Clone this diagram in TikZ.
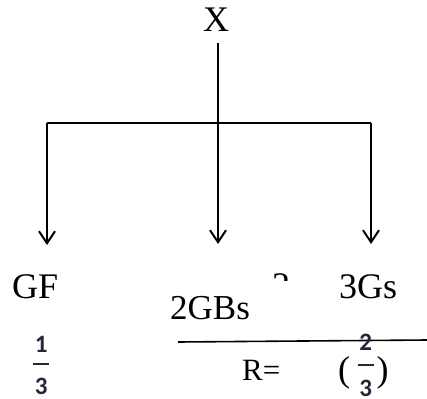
\documentclass[tikz,border=0pt]{standalone}
\usepackage{fontspec}
\setmainfont{Liberation Serif}
\newfontfamily\fracfont{Carlito}
\definecolor{fracink}{RGB}{34, 40, 56}
\usetikzlibrary{arrows.meta, positioning, calc}
\newcommand{\stackfrac}[4]{\vbox{\hbox to 16pt{\hss#1\hss}\kern#3\hrule height 1.8pt\kern#4\hbox to 16pt{\hss#2\hss}}}

\begin{document}
\begin{tikzpicture}[x=1pt, y=-1pt,
    bigtext/.style={anchor=base west, inner sep=0pt, font=\fontsize{36}{40}\selectfont},
    fractext/.style={anchor=base west, inner sep=0pt, text=fracink, font=\fracfont\bfseries\fontsize{25}{28}\selectfont},
    branch/.style={line width=2pt, -{Straight Barb[length=12pt, width=16pt, line width=2pt]}}]
  \useasboundingbox (0,0) rectangle (427,398);

  % parent and the bar it hangs from
  \node[bigtext] (X) at (203,32) {X};
  \coordinate (jl) at (47,123);
  \coordinate (jm) at (218,123);
  \coordinate (jr) at (371,123);
  \draw[line width=1.3pt] (X.south -| jm) ++(0,11) -- (jm);
  \draw[line width=1.7pt] (jl) -- (jr);

  % three branches
  \coordinate (el) at (47,245);
  \coordinate (em) at (218,244);
  \coordinate (er) at (371,244);
  \draw[branch] (jl) -- (el);
  \draw[branch] (jm) -- (em);
  \draw[branch] (jr) -- (er);

  % offspring
  \node[bigtext] (GF) at (12,298) {GF};
  \node[bigtext] (Gs) at (339,298) {3Gs};
  \node[bigtext, font=\fontsize{35}{40}\selectfont] (GBs) at (170,319) {2GBs};
  \begin{scope}
    \clip (265,266) rectangle (295,280);
    \node[bigtext] (hidden) at (272,297) {2};
  \end{scope}

  % ratio
  \draw[line width=1.6pt] (178,342) -- (427,340);
  \node[fractext] (oneThird) at (33,394) {\stackfrac{1}{3}{10pt}{13pt}};
  \node[bigtext, font=\fontsize{31}{34}\selectfont] (R) at (242,380) {R=};
  \node[bigtext, font=\fontsize{36}{40}\selectfont] (twoThirds) at (338,381)
    {(\hspace{7.5pt}\raisebox{-15pt}{\fracfont\bfseries\color{fracink}\fontsize{25}{28}\selectfont\stackfrac{2}{3}{14pt}{13.5pt}}\hspace{3pt})};
\end{tikzpicture}
\end{document}
